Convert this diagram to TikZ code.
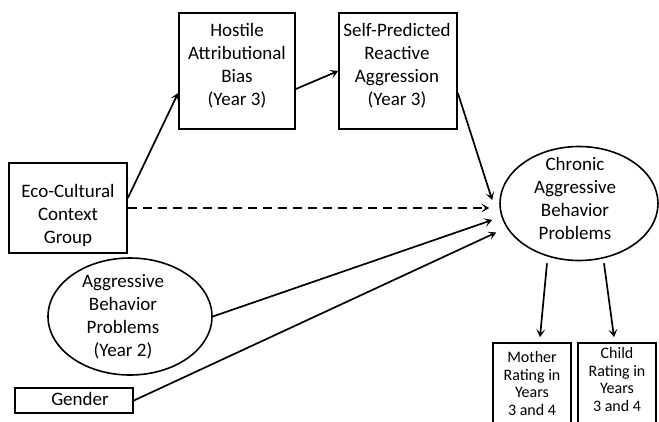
\documentclass[tikz,border=0pt]{standalone}
\usepackage{fontspec}
\setmainfont{Carlito}
\usetikzlibrary{arrows.meta,shapes.geometric}
\begin{document}
\begin{tikzpicture}[x=1pt,y=-1pt,
  box/.style={draw, line width=1.7pt, inner sep=0pt},
  oval/.style={draw, ellipse, line width=1.6pt, inner sep=0pt},
  txt/.style={inner sep=0pt, align=center, font=\fontsize{19}{23}\selectfont},
  smalltxt/.style={inner sep=0pt, align=center, font=\fontsize{16}{17.5}\selectfont},
  conn/.style={line width=1.7pt, -{Stealth[length=8pt,width=9pt,inset=4pt]}},
  dconn/.style={conn, dash pattern=on 9pt off 6pt}]
\useasboundingbox (0,0) rectangle (659,421);
\clip (0,0) rectangle (659,421);
% boxes
\node[box, minimum width=116pt, minimum height=116pt] (hostile) at (237,71) {};
\node[box, minimum width=118pt, minimum height=116pt] (self) at (398,71) {};
\node[box, minimum width=118pt, minimum height=90pt] (eco) at (68,208) {};
\node[box, minimum width=118pt, minimum height=25pt] (gender) at (74,400.5) {};
\node[oval, minimum width=164pt, minimum height=117pt] (agg) at (130,316.5) {};
\node[oval, minimum width=158pt, minimum height=114pt] (chronic) at (579,203.5) {};
\node[box, minimum width=78pt, minimum height=100pt] (mother) at (532,393) {};
\node[box, minimum width=78pt, minimum height=100pt] (child) at (617,393) {};
% texts
\node[txt] (hostileT) at (237,66) {Hostile\\Attributional\\Bias\\(Year 3)};
\node[txt] (selfT) at (397,66) {Self-Predicted\\Reactive\\Aggression\\(Year 3)};
\node[txt] (ecoT) at (68,215) {Eco-Cultural\\Context\\Group};
\node[txt] (genderT) at (80,399) {Gender};
\node[txt] (aggT) at (123,317) {Aggressive\\Behavior\\Problems\\(Year 2)};
\node[txt] (chronicT) at (575,198) {Chronic\\Aggressive\\Behavior\\Problems};
\node[smalltxt] (motherT) at (532,383.5) {Mother\\Rating in\\Years\\3 and 4};
\node[smalltxt] (childT) at (617,379.5) {Child\\Rating in\\Years\\3 and 4};
% connectors
\draw[conn] ([yshift=10pt]eco.east) -- ([yshift=-22pt]hostile.west);
\draw[conn] ([yshift=-18pt]hostile.east) -- (self.west);
\draw[conn] ([yshift=-22pt]self.east) -- ([xshift=-7pt,yshift=3.5pt]chronic.west);
\draw[dconn] (eco.east) -- ([xshift=-10pt,yshift=-4.5pt]chronic.west);
\draw[conn] (agg.east) -- ([xshift=-7pt,yshift=-16.5pt]chronic.west);
\draw[conn] (gender.east) -- ([xshift=-3pt,yshift=-29pt]chronic.west);
\draw[conn] ([xshift=-32pt,yshift=-2pt]chronic.south) -- ([xshift=8pt,yshift=5pt]mother.north);
\draw[conn] ([xshift=25pt,yshift=-2pt]chronic.south) -- ([xshift=-3pt,yshift=5pt]child.north);
\end{tikzpicture}
\end{document}
